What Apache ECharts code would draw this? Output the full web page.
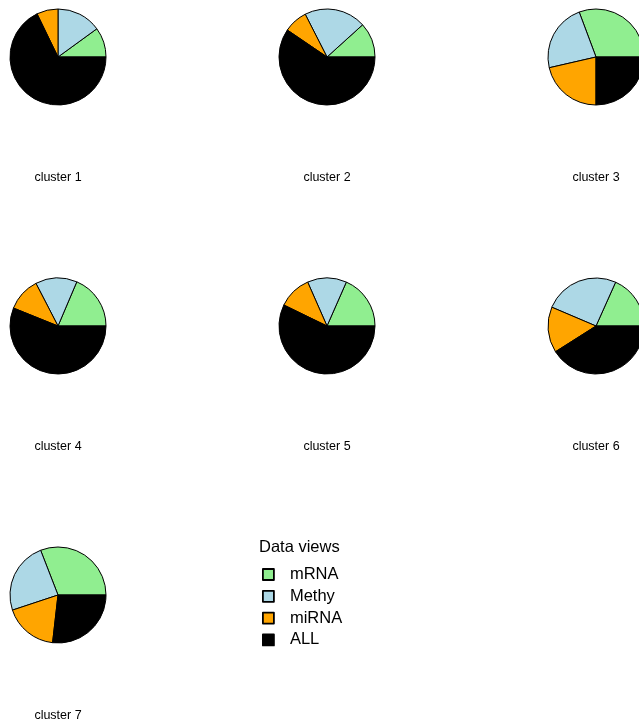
<!DOCTYPE html>
<html>
<head>
<meta charset="utf-8">
<script src="https://cdn.jsdelivr.net/npm/echarts@6/dist/echarts.min.js"></script>
<style>
html,body{margin:0;padding:0;background:#fff;}
#chart{width:639px;height:722px;}
</style>
</head>
<body>
<div id="chart"></div>
<script>
const views = ['mRNA', 'Methy', 'miRNA', 'ALL'];
const viewColors = ['#90EE90', '#ADD8E6', '#FFA500', '#000000'];
const clusters = ['cluster 1', 'cluster 2', 'cluster 3', 'cluster 4', 'cluster 5', 'cluster 6', 'cluster 7'];
const cluster1 = [0.100, 0.150, 0.072, 0.678];
const cluster2 = [0.117, 0.208, 0.080, 0.595];
const cluster3 = [0.307, 0.229, 0.214, 0.250];
const cluster4 = [0.186, 0.140, 0.113, 0.561];
const cluster5 = [0.184, 0.132, 0.112, 0.572];
const cluster6 = [0.183, 0.253, 0.154, 0.410];
const cluster7 = [0.309, 0.242, 0.181, 0.268];
const clusterValues = [cluster1, cluster2, cluster3, cluster4, cluster5, cluster6, cluster7];

const colX = [58, 327, 596];
const rowY = [57, 326, 595];

const chart = echarts.init(document.getElementById('chart'), null, {renderer: 'canvas'});
const series = [];
const titles = [];
clusterValues.forEach((vals, i) => {
  const cx = colX[i % 3], cy = rowY[Math.floor(i / 3)];
  series.push({
    type: 'pie',
    center: [cx, cy],
    radius: [0, 48],
    startAngle: 0,
    clockwise: false,
    avoidLabelOverlap: false,
    label: {show: false},
    labelLine: {show: false},
    emphasis: {disabled: true},
    silent: true,
    itemStyle: {borderColor: '#000', borderWidth: 1},
    data: vals.map((v, j) => ({name: views[j], value: v, itemStyle: {color: viewColors[j]}}))
  });
  titles.push({
    text: clusters[i],
    left: cx,
    top: cy + 114,
    padding: 0,
    textAlign: 'center',
    textStyle: {fontFamily: 'Liberation Sans, Arial, sans-serif', fontSize: 12.5, fontWeight: 'normal', color: '#000'}
  });
});
titles.push({
  text: 'Data views',
  left: 259,
  top: 539,
  padding: 0,
  textStyle: {fontFamily: 'Liberation Sans, Arial, sans-serif', fontSize: 16.5, fontWeight: 'normal', color: '#000'}
});

chart.setOption({
  animation: false,
  backgroundColor: '#fff',
  title: titles,
  legend: {
    orient: 'vertical',
    left: 262,
    top: 566,
    padding: 0,
    icon: 'rect',
    itemWidth: 11,
    itemHeight: 11,
    itemGap: 4.8,
    selectedMode: false,
    data: views,
    itemStyle: {borderColor: '#000', borderWidth: 1.8},
    textStyle: {fontFamily: 'Liberation Sans, Arial, sans-serif', fontSize: 16.5, color: '#000', padding: [0, 0, 0, 11]}
  },
  series: series
});
</script>
</body>
</html>
